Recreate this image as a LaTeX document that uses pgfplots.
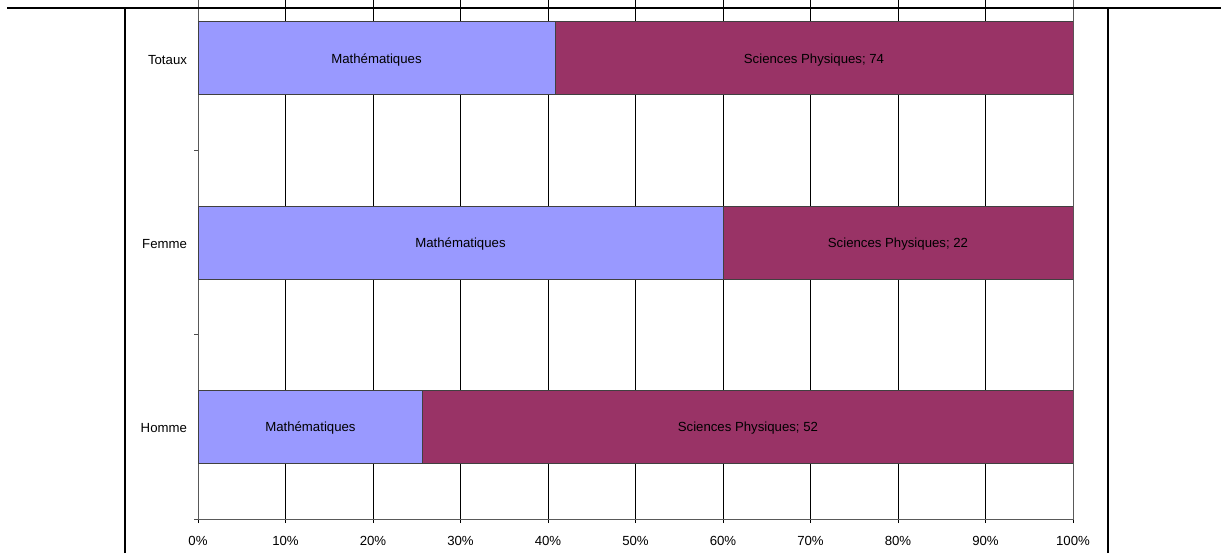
\documentclass[border=0pt]{standalone}
\usepackage{pgfplots}
\pgfplotsset{compat=1.18}
\usepackage{pgfplotstable}
\usepackage{fontspec}
\setmainfont{Liberation Sans}
\definecolor{mathc}{HTML}{9999FF}
\definecolor{spc}{HTML}{993366}
\pgfplotstableread{
y math sp n
0 25.7 74.3 52
1 60.0 40.0 22
2 40.8 59.2 74
}\data
\newcommand{\lblfont}{\fontsize{6.6}{7.5}\selectfont}
\begin{document}
\begin{tikzpicture}
\useasboundingbox (0pt,0pt) rectangle (610.5pt,276.5pt);
\begin{scope}
\clip (0pt,0pt) rectangle (610.5pt,276.5pt);
\begin{axis}[
  at={(99pt,17pt)}, anchor=south west,
  scale only axis, width=437.5pt, height=276.5pt,
  xmin=0, xmax=100, ymin=-0.5, ymax=2.5,
  xtick={0,10,...,100},
  xticklabel={\pgfmathprintnumber{\tick}\%},
  /pgf/number format/assume math mode=true,
  xticklabel style={font=\lblfont, yshift=-3pt},
  ytick={-0.5,0.5,1.5,2.5},
  yticklabels={},
  ytick style={draw=gray!60!black, line width=0.5pt},
  extra y ticks={0,1,2},
  extra y tick labels={Homme,Femme,Totaux},
  extra y tick style={major tick length=0pt, yticklabel style={font=\lblfont, xshift=-2pt, yshift=-0.8pt}},
  xtick pos=left, ytick pos=left,
  tick align=outside,
  major tick length=2pt,
  xtick style={draw=black, line width=0.5pt},
  xmajorgrids,
  grid style={black, line width=0.5pt},
  axis line style={gray!70!black, line width=0.5pt},
]
\addplot[xbar stacked, bar width=36.5pt, fill=mathc, draw=black!75, line width=0.5pt] table[x=math, y=y]{\data};
\addplot[xbar stacked, bar width=36.5pt, fill=spc, draw=black!75, line width=0.5pt] table[x=sp, y=y]{\data};
\addplot[draw=none, mark=none, stack plots=false,
  nodes near coords={Mathématiques},
  every node near coord/.style={anchor=center, font=\lblfont, text=black, yshift=-0.8pt}]
  table[x expr=\thisrow{math}/2, y=y]{\data};
\addplot[draw=none, mark=none, stack plots=false,
  point meta=explicit,
  nodes near coords={Sciences Physiques; \pgfmathprintnumber{\pgfplotspointmeta}},
  every node near coord/.style={anchor=center, font=\lblfont, text=black, yshift=-0.8pt}]
  table[x expr=\thisrow{math}+\thisrow{sp}/2, y=y, meta=n]{\data};
\end{axis}
\end{scope}
\draw[line width=1.1pt] (3.5pt,272.5pt) -- (610.5pt,272.5pt);
\draw[line width=1pt] (62.25pt,0pt) -- (62.25pt,272.5pt);
\draw[line width=1pt] (554pt,0pt) -- (554pt,272.5pt);
\end{tikzpicture}
\end{document}
